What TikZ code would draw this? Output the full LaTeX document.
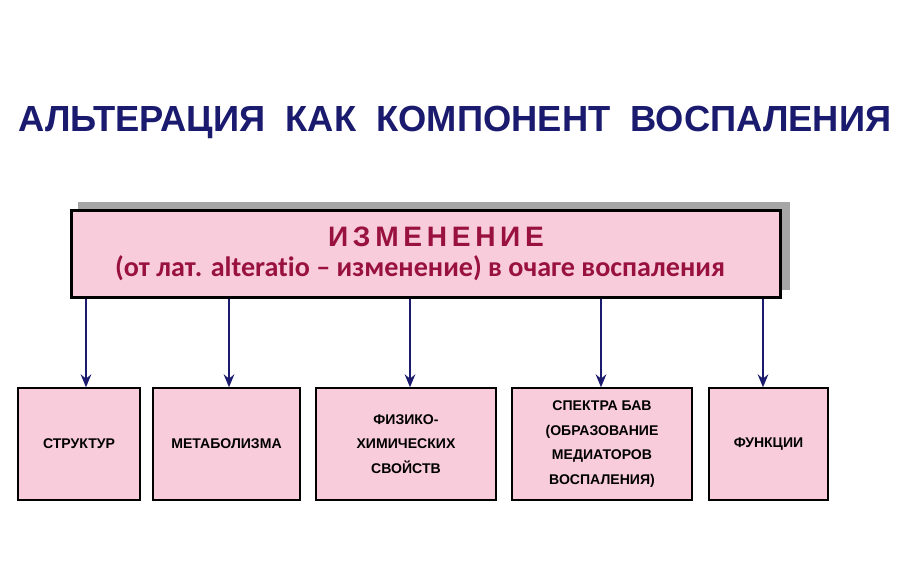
\documentclass[tikz,border=0pt]{standalone}
\usepackage{fontspec}
\setmainfont{Liberation Sans}
\newfontfamily\calib[Ligatures=NoCommon]{Carlito}
\usetikzlibrary{positioning, arrows.meta}
\definecolor{boxpink}{HTML}{F9CCDC}
\definecolor{navy}{HTML}{1A1A6E}
\definecolor{wine}{HTML}{99123F}
\tikzstyle{smallbox}=[draw, line width=1.6pt, fill=boxpink, align=center, font=\bfseries\fontsize{12}{21}\selectfont, inner sep=2pt, minimum height=112*0.85pt]
\tikzstyle{down}=[-{Stealth[length=11pt,width=9pt]}, navy, line width=2.4pt]

\begin{document}
\begin{tikzpicture}[x=0.03cm, y=-0.03cm]
\useasboundingbox (0,0) rectangle (900,575);
\node[font=\bfseries\fontsize{31}{34}\selectfont, text=navy] (title) at (455,122) {АЛЬТЕРАЦИЯ\ \ КАК\ \ КОМПОНЕНТ\ \ ВОСПАЛЕНИЯ};
%
\fill[gray!70] (78,202) rectangle (790,290);
\node[draw, line width=2.4pt, fill=boxpink, minimum width=712*0.85pt, minimum height=88*0.85pt] (chg) at (426,254) {};
\node[font=\bfseries\fontsize{24}{26}\selectfont, text=wine] (head) at (436,237) {И\,З\,М\,Е\,Н\,Е\,Н\,И\,Е};
\node[font=\calib\bfseries\fontsize{24}{26}\selectfont, text=wine] (sub) at (420,268) {(от лат. alteratio – изменение) в очаге воспаления};
%
\node[smallbox, minimum width=122*0.85pt] (b1) at (79,444) {СТРУКТУР};
\node[smallbox, minimum width=147*0.85pt] (b2) at (226.5,444) {МЕТАБОЛИЗМА};
\node[smallbox, minimum width=180*0.85pt] (b3) at (406,444) {ФИЗИКО-\\ХИМИЧЕСКИХ\\СВОЙСТВ};
\node[smallbox, minimum width=180*0.85pt] (b4) at (602,444) {СПЕКТРА БАВ\\(ОБРАЗОВАНИЕ\\МЕДИАТОРОВ\\ВОСПАЛЕНИЯ)};
\node[smallbox, minimum width=119*0.85pt] (b5) at (768.5,444) {ФУНКЦИИ};
%
\foreach \n/\x in {b1/86, b2/229, b3/410, b4/601, b5/763}
  \draw[down] (chg.south -| \x,0) -- (\n.north -| \x,0);
\end{tikzpicture}
\end{document}
